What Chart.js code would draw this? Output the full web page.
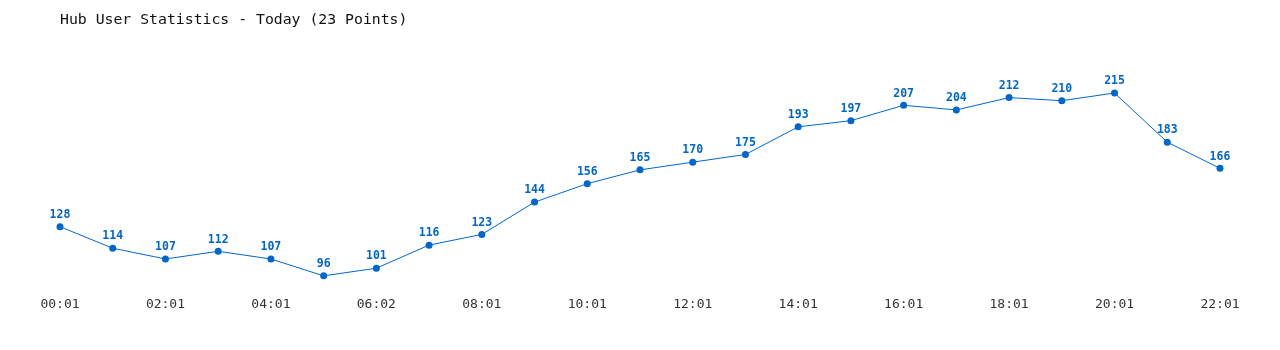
<!DOCTYPE html>
<html>
<head>
<meta charset="utf-8">
<script src="https://cdn.jsdelivr.net/npm/chart.js@4/dist/chart.umd.min.js"></script>
<style>
  html, body { margin: 0; padding: 0; background: #fff; }
  #wrap { width: 1280px; height: 350px; }
</style>
</head>
<body>
<div id="wrap"><canvas id="chart-users"></canvas></div>
<script>
const times = ["00:01","01:01","02:01","03:01","04:01","05:01","06:02","07:01","08:01","09:01","10:01","11:01",
               "12:01","13:01","14:01","15:01","16:01","17:01","18:01","19:01","20:01","21:01","22:01"];
const users = [128,114,107,112,107,96,101,116,123,144,156,165,170,175,193,197,207,204,212,210,215,183,166];
const titleText = "Hub User Statistics - Today (23 Points)";

const BLUE = "#0066cc";
const MONO = "'DejaVu Sans Mono', 'Liberation Mono', monospace";

// numeros encima de cada punto
const valueLabels = {
  id: "valueLabels",
  afterDatasetsDraw(chart) {
    const { ctx } = chart;
    const meta = chart.getDatasetMeta(0);
    ctx.save();
    ctx.fillStyle = BLUE;
    ctx.font = "bold 11.5px " + MONO;
    ctx.textAlign = "center";
    ctx.textBaseline = "bottom";
    meta.data.forEach((pt, i) => {
      ctx.fillText(String(users[i]), pt.x, pt.y - 6);
    });
    ctx.restore();
  }
};

new Chart(document.getElementById("chart-users").getContext("2d"), {
  type: "line",
  data: {
    labels: times,
    datasets: [{
      data: users,
      borderColor: BLUE,
      backgroundColor: BLUE,
      borderWidth: 1,
      tension: 0,
      pointRadius: 3.5,
      pointBackgroundColor: BLUE,
      pointBorderWidth: 0
    }]
  },
  options: {
    responsive: true,
    maintainAspectRatio: false,
    animation: false,
    layout: { padding: { left: 60, right: 60, top: 9, bottom: 35 } },
    plugins: {
      legend: { display: false },
      tooltip: { enabled: false },
      title: {
        display: true,
        text: titleText,
        align: "start",
        color: "#111",
        font: { family: MONO, size: 14.8, weight: "normal" },
        padding: { top: 2, bottom: 18 }
      }
    },
    scales: {
      x: {
        offset: false,
        grid: { display: false },
        border: { display: false },
        ticks: {
          color: "#333",
          font: { family: MONO, size: 13 },
          maxRotation: 0,
          autoSkip: false,
          padding: 3,
          callback: (v, i) => (i % 2 === 0 ? times[i] : "")
        }
      },
      y: {
        display: false,
        min: 89.8,
        max: 245.1
      }
    }
  },
  plugins: [valueLabels]
});
</script>
</body>
</html>
